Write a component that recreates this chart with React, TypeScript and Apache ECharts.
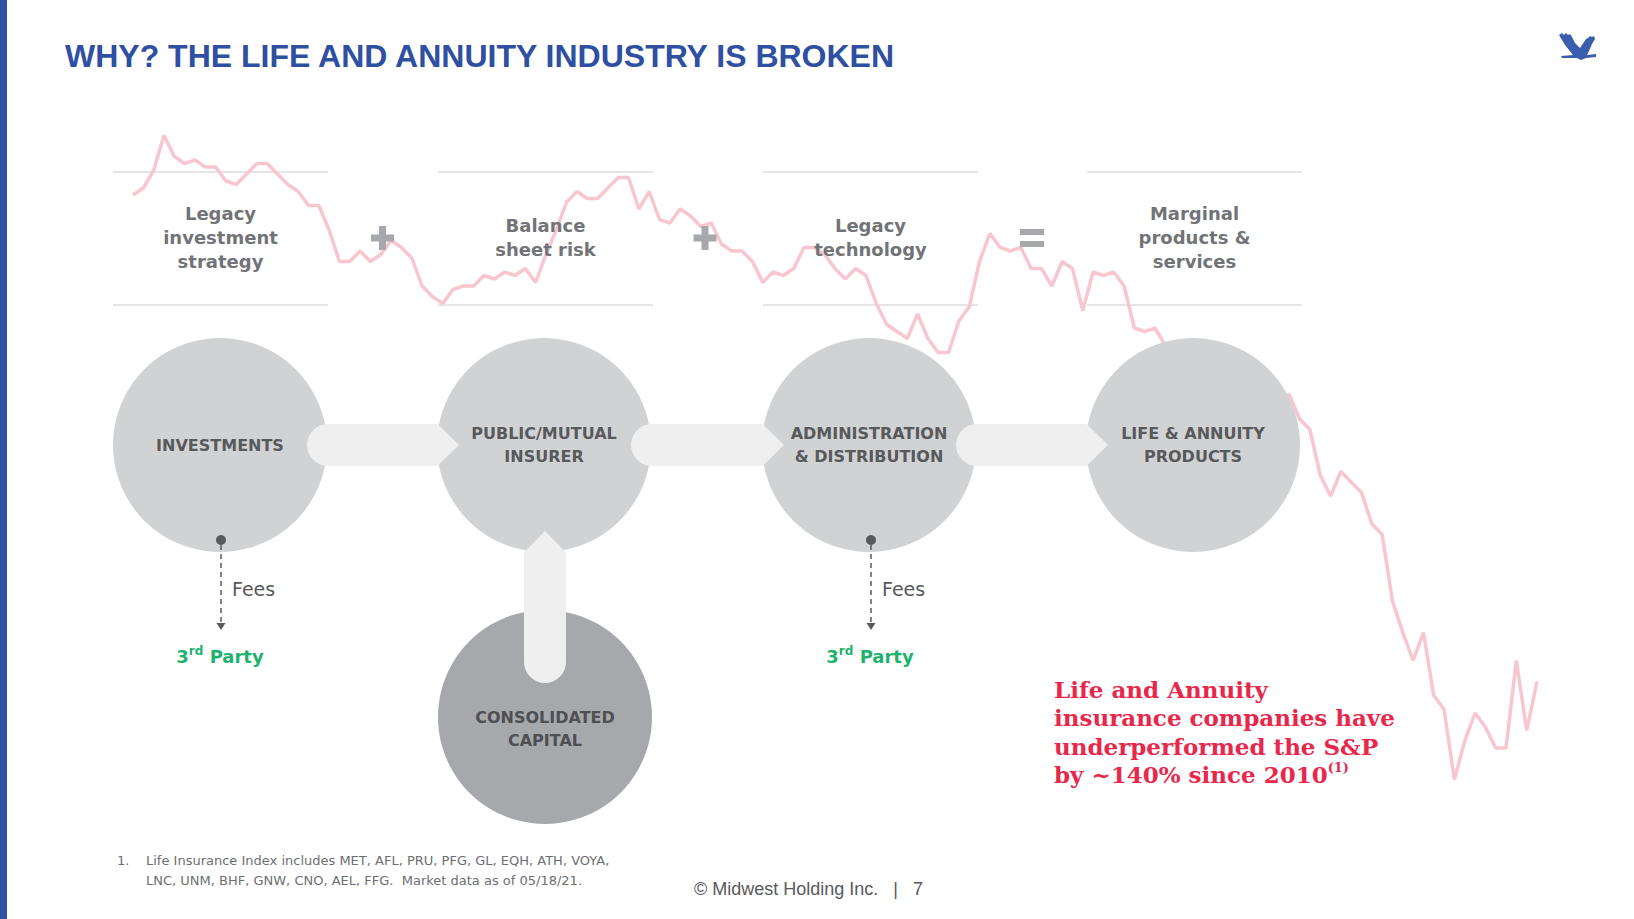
import React, { useEffect, useRef } from "react";
import * as echarts from "echarts";

// Life Insurance Index performance relative to the S&P 500 (%), monthly, Jan 2010 – May 2021
const relPerf: number[] = [
  0, 2, 7, 17, 11, 9, 10, 8, 8, 4,
  3, 6, 9, 9, 6, 3, 1, -3, -3, -10,
  -19, -19, -16, -19, -17, -13, -15, -18, -26, -29,
  -31, -27, -26, -26, -23, -24, -22, -23, -21, -25,
  -17, -10, -2, 1, -1, -1, 2, 5, 5, -4,
  1, -7, -8, -4, -6, -9, -8, -14, -16, -16,
  -19, -25, -22, -23, -21, -15, -15, -17, -21, -24,
  -21, -23, -31, -37, -39, -41, -34, -41, -45, -45,
  -36, -32, -19, -11, -15, -16, -15, -21, -21, -26,
  -19, -21, -33, -22, -23, -22, -26, -38, -39, -38,
  -43, -47, -45, -50, -48, -53, -51, -55, -54, -57,
  -55, -58, -57, -64, -67, -80, -86, -79, -82, -85,
  -94, -97, -116, -125, -133, -125, -143, -147, -167, -156,
  -148, -152, -158, -158, -133, -153, -139,
];

const months: string[] = [];
for (let y = 2010; y <= 2021; y++) {
  for (let m = 1; m <= 12; m++) {
    if (y === 2021 && m > 5) break;
    months.push(`${y}-${String(m).padStart(2, "0")}`);
  }
}

const titleText = "WHY? THE LIFE AND ANNUITY INDUSTRY IS BROKEN";
const boxTexts = [
  "Legacy\ninvestment\nstrategy",
  "Balance\nsheet risk",
  "Legacy\ntechnology",
  "Marginal\nproducts &\nservices",
];
const circleLabels = [
  "INVESTMENTS",
  "PUBLIC/MUTUAL\nINSURER",
  "ADMINISTRATION\n& DISTRIBUTION",
  "LIFE & ANNUITY\nPRODUCTS",
];
const capitalLabel = "CONSOLIDATED\nCAPITAL";
const calloutLines = [
  "Life and Annuity",
  "insurance companies have",
  "underperformed the S&P",
  "by ~140% since 2010",
];
const footnote1 = "Life Insurance Index includes MET, AFL, PRU, PFG, GL, EQH, ATH, VOYA,";
const footnote2 = "LNC, UNM, BHF, GNW, CNO, AEL, FFG.  Market data as of 05/18/21.";
const footer = "© Midwest Holding Inc.   |   7";

const eaglePath =
  "M0 2 L3 0 L5 2 L7 0 L9 2 L11 1 L13 4 L16 10 L21 15 L25 9 L27 6 L29 5 L31 3 L33 4 L35 3 L36 6 L33 11 L30 18 L28 22 L37 21 L37 24 L27 25 L22 27 L18 25 L3 25 L2 23 L14 22 L6 12 Z";
echarts.graphic.registerShape("eagle", echarts.graphic.extendPath(eaglePath, {}));

const SANS = "DejaVu Sans";

export default function App() {
  const ref = useRef<HTMLDivElement>(null);

  useEffect(() => {
    if (!ref.current) return;
    const chart = echarts.init(ref.current, undefined, { renderer: "svg" });

    const cxs = [220, 544, 869, 1193];
    const cy = 445;
    const R = 107;
    const boxes = [
      [113, 328],
      [438, 653],
      [763, 978],
      [1087, 1302],
    ];

    const els: any[] = [];
    els.push({ type: "rect", shape: { x: 0, y: 0, width: 7, height: 919 }, style: { fill: "#2F52A3" }, z: 30 });
    els.push({
      type: "text",
      x: 65,
      y: 56,
      z: 30,
      style: {
        text: titleText,
        fill: "#2E4FA2",
        fontSize: 32,
        fontWeight: "bold",
        fontFamily: "Liberation Sans",
        verticalAlign: "middle",
      },
    });
    els.push({ type: "eagle", x: 1559, y: 33, scaleX: 1, scaleY: 1, style: { fill: "#3A5DAE" }, z: 30 });

    boxes.forEach((b, i) => {
      els.push({ type: "line", shape: { x1: b[0], y1: 172, x2: b[1], y2: 172 }, style: { stroke: "#DCDDDE", lineWidth: 1.5 }, z: 0 });
      els.push({ type: "line", shape: { x1: b[0], y1: 305, x2: b[1], y2: 305 }, style: { stroke: "#DCDDDE", lineWidth: 1.5 }, z: 0 });
      els.push({
        type: "text",
        x: (b[0] + b[1]) / 2,
        y: 237,
        z: 20,
        style: {
          text: boxTexts[i],
          fill: "#727377",
          fontSize: 18,
          fontWeight: "bold",
          fontFamily: SANS,
          align: "center",
          verticalAlign: "middle",
          lineHeight: 24,
        },
      });
    });

    const opColor = "#A7A8AC";
    [382.5, 705].forEach((x) => {
      els.push({ type: "rect", shape: { x: x - 11.5, y: 234.5, width: 23, height: 7 }, style: { fill: opColor }, z: 20 });
      els.push({ type: "rect", shape: { x: x - 3.5, y: 226, width: 7, height: 24 }, style: { fill: opColor }, z: 20 });
    });
    els.push({ type: "rect", shape: { x: 1020, y: 229, width: 24, height: 6 }, style: { fill: opColor }, z: 20 });
    els.push({ type: "rect", shape: { x: 1020, y: 241, width: 24, height: 6 }, style: { fill: opColor }, z: 20 });

    cxs.forEach((cx) => {
      els.push({ type: "circle", shape: { cx, cy, r: R }, style: { fill: "#D1D2D4" }, z: 10 });
    });
    els.push({ type: "circle", shape: { cx: 545, cy: 717, r: R }, style: { fill: "#A7A8AC" }, z: 10 });

    const arrowFill = "#EFEFEF";
    for (let k = 0; k < 3; k++) {
      const a = cxs[k] + 87;
      const b = cxs[k + 1] - 106;
      els.push({
        type: "rect",
        shape: { x: a, y: 424, width: b - a, height: 42, r: [21, 0, 0, 21] },
        style: { fill: arrowFill },
        z: 11,
      });
      els.push({
        type: "polygon",
        shape: { points: [[b - 0.5, 424], [b + 21, 445], [b - 0.5, 466]] },
        style: { fill: arrowFill },
        z: 11,
      });
    }
    els.push({
      type: "rect",
      shape: { x: 524, y: 552, width: 42, height: 131, r: [0, 0, 21, 21] },
      style: { fill: arrowFill },
      z: 11,
    });
    els.push({
      type: "polygon",
      shape: { points: [[524, 552.5], [545, 531], [566, 552.5]] },
      style: { fill: arrowFill },
      z: 11,
    });

    cxs.forEach((cx, i) => {
      els.push({
        type: "text",
        x: cx,
        y: 445,
        z: 20,
        style: {
          text: circleLabels[i],
          fill: "#58595B",
          fontSize: 16,
          fontWeight: "bold",
          fontFamily: SANS,
          align: "center",
          verticalAlign: "middle",
          lineHeight: 23,
        },
      });
    });
    els.push({
      type: "text",
      x: 545,
      y: 729,
      z: 20,
      style: {
        text: capitalLabel,
        fill: "#4E4F52",
        fontSize: 16,
        fontWeight: "bold",
        fontFamily: SANS,
        align: "center",
        verticalAlign: "middle",
        lineHeight: 23,
      },
    });

    const fees = [
      { x: 221, cx: 220 },
      { x: 871, cx: 870 },
    ];
    fees.forEach((f) => {
      els.push({ type: "circle", shape: { cx: f.x, cy: 540, r: 5 }, style: { fill: "#58595B" }, z: 20 });
      els.push({
        type: "line",
        shape: { x1: f.x, y1: 545, x2: f.x, y2: 622 },
        style: { stroke: "#58595B", lineWidth: 1.5, lineDash: [5, 4] },
        z: 20,
      });
      els.push({
        type: "polygon",
        shape: { points: [[f.x - 4.5, 623], [f.x + 4.5, 623], [f.x, 630]] },
        style: { fill: "#58595B" },
        z: 20,
      });
      els.push({
        type: "text",
        x: f.x + 11,
        y: 589,
        z: 20,
        style: { text: "Fees", fill: "#58595B", fontSize: 19, fontFamily: SANS, verticalAlign: "middle" },
      });
      els.push({
        type: "text",
        x: f.cx,
        y: 656,
        z: 20,
        style: {
          text: "{a|3}{b|rd}{a| Party}",
          align: "center",
          verticalAlign: "middle",
          rich: {
            a: { fontSize: 18, fontWeight: "bold", fontFamily: SANS, fill: "#1DB36F", color: "#1DB36F", lineHeight: 22 },
            b: { fontSize: 12, fontWeight: "bold", fontFamily: SANS, fill: "#1DB36F", color: "#1DB36F", verticalAlign: "top", lineHeight: 22 },
          },
        },
      });
    });

    const lastLine = calloutLines.length - 1;
    const calloutText =
      calloutLines.slice(0, lastLine).map((l) => `{a|${l}}`).join("\n") + `\n{a|${calloutLines[lastLine]}}{s|(1)}`;
    els.push({
      type: "text",
      x: 1054,
      y: 732,
      z: 20,
      style: {
        text: calloutText,
        verticalAlign: "middle",
        rich: {
          a: { fontSize: 23, fontWeight: "bold", fontFamily: "DejaVu Serif", fill: "#E8274B", color: "#E8274B", lineHeight: 28.5 },
          s: { fontSize: 13, fontWeight: "bold", fontFamily: "DejaVu Serif", fill: "#E8274B", color: "#E8274B", verticalAlign: "top", lineHeight: 28.5 },
        },
      },
    });

    const fnStyle = { fill: "#6D6E71", fontSize: 13, fontFamily: SANS, verticalAlign: "middle" };
    els.push({ type: "text", x: 117, y: 860, z: 20, style: { ...fnStyle, text: "1." } });
    els.push({ type: "text", x: 146, y: 860, z: 20, style: { ...fnStyle, text: footnote1 } });
    els.push({ type: "text", x: 146, y: 880, z: 20, style: { ...fnStyle, text: footnote2 } });
    els.push({
      type: "text",
      x: 694,
      y: 889,
      z: 20,
      style: { text: footer, fill: "#58595B", fontSize: 18, fontFamily: "Liberation Sans", verticalAlign: "middle" },
    });

    chart.setOption({
      animation: false,
      backgroundColor: "#FFFFFF",
      grid: { left: 133, top: 125, width: 1404, height: 700, show: false },
      xAxis: { type: "category", data: months, boundaryGap: false, show: false },
      yAxis: { type: "value", min: -180, max: 20, show: false },
      series: [
        {
          type: "line",
          name: "Life Insurance Index vs S&P 500",
          data: relPerf,
          symbol: "none",
          silent: true,
          z: 1,
          lineStyle: { color: "#F8C6CF", width: 3.5 },
        },
      ],
      graphic: { elements: els },
    });

    return () => chart.dispose();
  }, []);

  return (
    <div
      ref={ref}
      style={{ position: "fixed", left: 0, top: 0, width: 1634, height: 919, background: "#fff" }}
    />
  );
}
